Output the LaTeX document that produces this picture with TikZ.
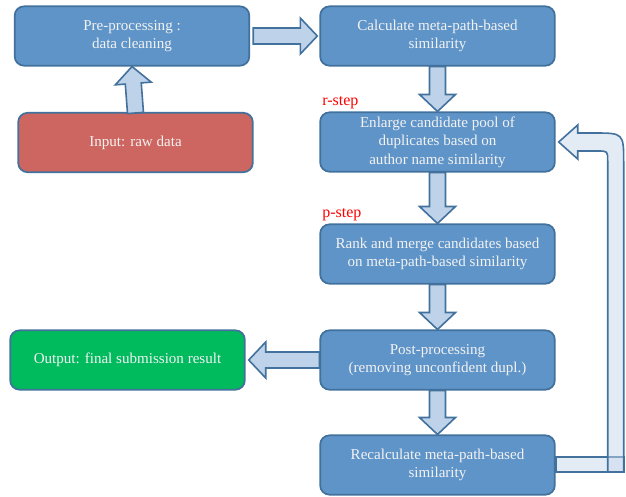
\documentclass[tikz,border=0pt]{standalone}
\usepackage{fontspec}
\setmainfont{Liberation Serif}
\newfontfamily\boxfont{Liberation Serif}
\usetikzlibrary{calc}
\definecolor{boxblue}{HTML}{5F94C8}
\definecolor{boxline}{HTML}{41719C}
\definecolor{boxred}{HTML}{CD6660}
\definecolor{boxgreen}{HTML}{00BA5E}
\definecolor{arrowfill}{HTML}{BED3EA}
\definecolor{loopfill}{HTML}{C8D8EC}
\tikzset{
    box/.style={rectangle,rounded corners=7pt,draw=boxline,line width=1.3pt,fill=boxblue,
        text=white!95!black,align=center,font=\boxfont\fontsize{11.3}{14}\selectfont,
        minimum width=176pt,minimum height=44.5pt,inner sep=2pt},
    inbox/.style={box,fill=boxred},
    outbox/.style={box,fill=boxgreen},
    steplabel/.style={text=red,font=\boxfont\fontsize{12}{14}\selectfont,anchor=base west,inner sep=0pt},
    blk/.style={draw=boxline,line width=1.2pt,fill=arrowfill,line join=miter,
        to path={
            let \p1=($(\tikztotarget)!12.75pt!(\tikztostart)$) in
            ($(\tikztostart)!6pt!90:(\tikztotarget)$)
            -- ($(\p1)!6pt!90:(\tikztotarget)$)
            -- ($(\p1)!13.5pt!90:(\tikztotarget)$)
            -- (\tikztotarget)
            -- ($(\p1)!13.5pt!-90:(\tikztotarget)$)
            -- ($(\p1)!6pt!-90:(\tikztotarget)$)
            -- ($(\tikztostart)!6pt!-90:(\tikztotarget)$)
            -- cycle
        }},
    loopband/.style={draw=boxline,line width=1.2pt,fill=loopfill,fill opacity=0.5,line join=miter},
}

\begin{document}
\begin{tikzpicture}[x=0.75pt,y=-0.75pt]
    \useasboundingbox (0,0) rectangle (626,497);

    \node[box] (pre) at (132,36) {Pre-processing :\\data cleaning};
    \node[box] (meta) at (437.5,36) {Calculate meta-path-based\\similarity};
    \node[inbox] (input) at (135.5,142.5) {Input: raw data};
    \node[box] (enlarge) at (437.5,142) {Enlarge candidate pool of\\duplicates based on\\author name similarity};
    \node[box] (rank) at (437.5,254) {Rank and merge candidates based\\on meta-path-based similarity};
    \node[box] (post) at (437.5,360) {Post-processing\\(removing unconfident dupl.)};
    \node[outbox] (output) at (127.5,360) {Output: final submission result};
    \node[box] (recalc) at (437.5,465) {Recalculate meta-path-based\\similarity};

    \node[steplabel] (rstep) at (322,105) {r-step};
    \node[steplabel] (pstep) at (322,217) {p-step};

    % block arrows
    \path[blk] ($(input.north)+(0,1)$) to (pre.south);
    \path[blk] ($(pre.east)+(3,0)$) to ($(meta.west)+(-2,0)$);
    \path[blk] (meta.south) to (enlarge.north);
    \path[blk] (enlarge.south) to (rank.north);
    \path[blk] (rank.south) to (post.north);
    \path[blk] (post.south) to (recalc.north);
    \path[blk] (post.west) to ($(output.east)+(3,0)$);

    % loop back to r-step
    \path[loopband] ($(recalc.east)+(0,-8)$) rectangle ($(recalc.east)+(68,7)$);
    \path[loopband] ($(recalc.east)+(52,7)$) -- ($(enlarge.east)+(52,19)$)
        .. controls ($(enlarge.east)+(52,9)$) .. ($(enlarge.east)+(42,9)$)
        -- ($(enlarge.east)+(22,9)$) -- ($(enlarge.east)+(22,17)$)
        -- ($(enlarge.east)+(3,0)$)
        -- ($(enlarge.east)+(22,-17)$) -- ($(enlarge.east)+(22,-9)$)
        -- ($(enlarge.east)+(38,-9)$)
        .. controls ($(enlarge.east)+(68,-9)$) .. ($(enlarge.east)+(68,21)$)
        -- ($(recalc.east)+(68,7)$) -- cycle;
\end{tikzpicture}
\end{document}
